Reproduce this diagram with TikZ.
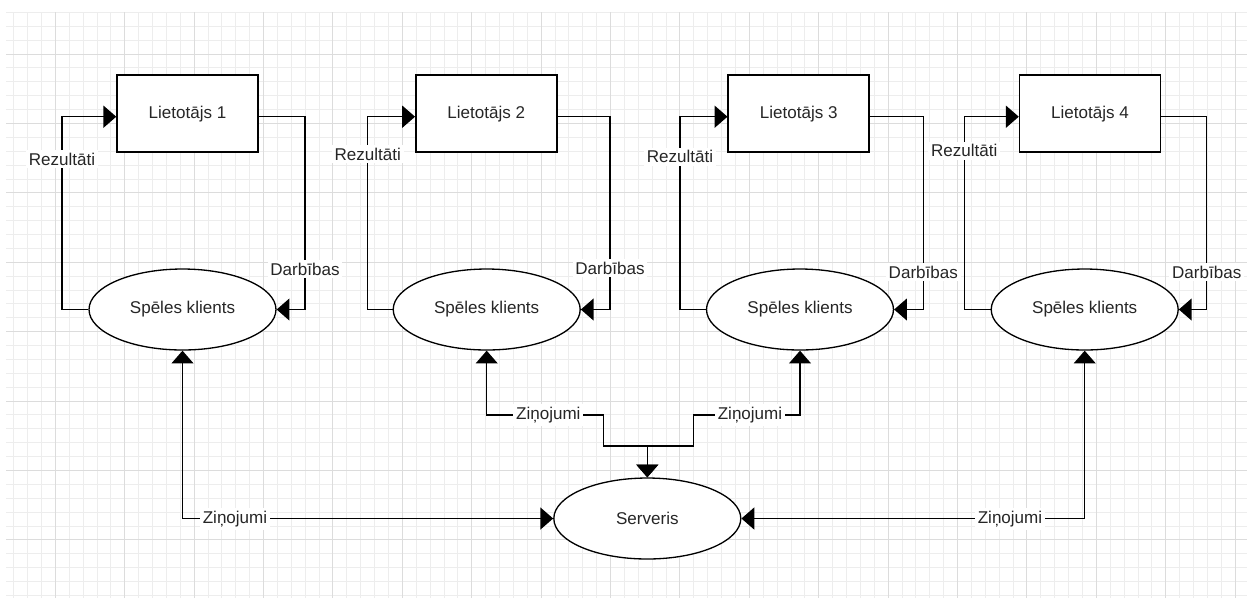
\documentclass[tikz,border=0pt]{standalone}
\usepackage{fontspec}
\setmainfont{Liberation Sans}
\usetikzlibrary{shapes.geometric,arrows.meta}
\definecolor{gridminor}{HTML}{EDEDED}
\definecolor{gridmajor}{HTML}{DCDCDC}
\definecolor{txt}{HTML}{262626}
\tikzset{
  gminor/.style={draw=gridminor,line width=0.5pt},
  gmajor/.style={draw=gridmajor,line width=0.55pt},
  userbox/.style={draw=black,line width=0.85pt,fill=white,rectangle,minimum width=2.82cm,minimum height=1.54cm,inner sep=0pt,text=txt},
  client/.style={draw=black,line width=0.75pt,fill=white,ellipse,minimum width=3.74cm,minimum height=1.62cm,inner sep=0pt,text=txt},
  conn/.style={draw=black,line width=0.8pt},
  lbl/.style={fill=white,inner sep=1.6pt,text=txt}
}
\begin{document}
\begin{tikzpicture}[x=0.02cm,y=-0.02cm,font=\fontsize{9.7}{11}\selectfont,
  >={Triangle[length=7.3pt,width=12.5pt]}]
\useasboundingbox[fill=white] (0,0) rectangle (1253,600);
% grid
\begin{scope}
\clip (6,12.4) rectangle (1247,598);
\foreach \n in {0,...,88} {\pgfmathsetmacro\xx{13.66+\n*13.88}\draw[gminor] (\xx,12.4) -- (\xx,598);}
\foreach \m in {0,...,42} {\pgfmathsetmacro\yy{12.4+\m*13.88}\draw[gminor] (6,\yy) -- (1247,\yy);}
\foreach \n in {3,8,...,88} {\pgfmathsetmacro\xx{13.66+\n*13.88}\draw[gmajor] (\xx,12.4) -- (\xx,598);}
\foreach \m in {3,8,...,38} {\pgfmathsetmacro\yy{12.4+\m*13.88}\draw[gmajor] (6,\yy) -- (1247,\yy);}
\end{scope}
% nodes
\node[userbox] (u1) at (187.5,113.7) {Lietotājs 1};
\node[userbox] (u2) at (486.3,113.7) {Lietotājs 2};
\node[userbox] (u3) at (798.7,113.7) {Lietotājs 3};
\node[userbox] (u4) at (1090,113.7) {Lietotājs 4};
\node[client] (c1) at (182.5,309.5) {Spēles klients};
\node[client] (c2) at (486.7,309.5) {Spēles klients};
\node[client] (c3) at (800,309.5) {Spēles klients};
\node[client] (c4) at (1084.7,309.5) {Spēles klients};
\node[client] (s) at (647.3,518.5) {Serveris};
% bend coordinates
\coordinate (r1) at (62,116.7);
\coordinate (r2) at (367.7,116.7);
\coordinate (r3) at (680,116.7);
\coordinate (r4) at (964.3,116.7);
\coordinate (d1) at (305,116.7);
\coordinate (d2) at (610,116.7);
\coordinate (d3) at (923.3,116.7);
\coordinate (d4) at (1206.7,116.7);
\coordinate (m2) at (603.3,415);
\coordinate (m3) at (693.3,415);
\coordinate (j) at (647.3,446);
% Rezultati
\foreach \i in {1,2,3,4} {
  \draw[conn,->] (c\i.west) -| (r\i) -- (r\i -| u\i.west);
  \draw[conn,->] (d\i -| u\i.east) -- (d\i) |- (c\i.east);
}
% Zinojumi
\draw[conn,<->] (c1.south) |- (s.west);
\draw[conn,<->] (c4.south) |- (s.east);
\draw[conn,<->] (c2.south) |- (m2) -- (m2 |- j) -| (s.north);
\draw[conn,<->] (c3.south) |- (m3) -- (m3 |- j) -| (s.north);
% labels
\node[lbl] (lr1) at (62,159) {Rezultāti};
\node[lbl] (lr2) at (367.7,154.3) {Rezultāti};
\node[lbl] (lr3) at (680,156.7) {Rezultāti};
\node[lbl] (lr4) at (964.3,150.7) {Rezultāti};
\node[lbl] (ld1) at (305,269.3) {Darbības};
\node[lbl] (ld2) at (610,268.3) {Darbības};
\node[lbl] (ld3) at (923.3,272.3) {Darbības};
\node[lbl] (ld4) at (1206.7,272.3) {Darbības};
\node[lbl] (lz1) at (235,519) {Ziņojumi};
\node[lbl] (lz2) at (548.3,415) {Ziņojumi};
\node[lbl] (lz3) at (750,415) {Ziņojumi};
\node[lbl] (lz4) at (1010,519) {Ziņojumi};
\end{tikzpicture}
\end{document}
